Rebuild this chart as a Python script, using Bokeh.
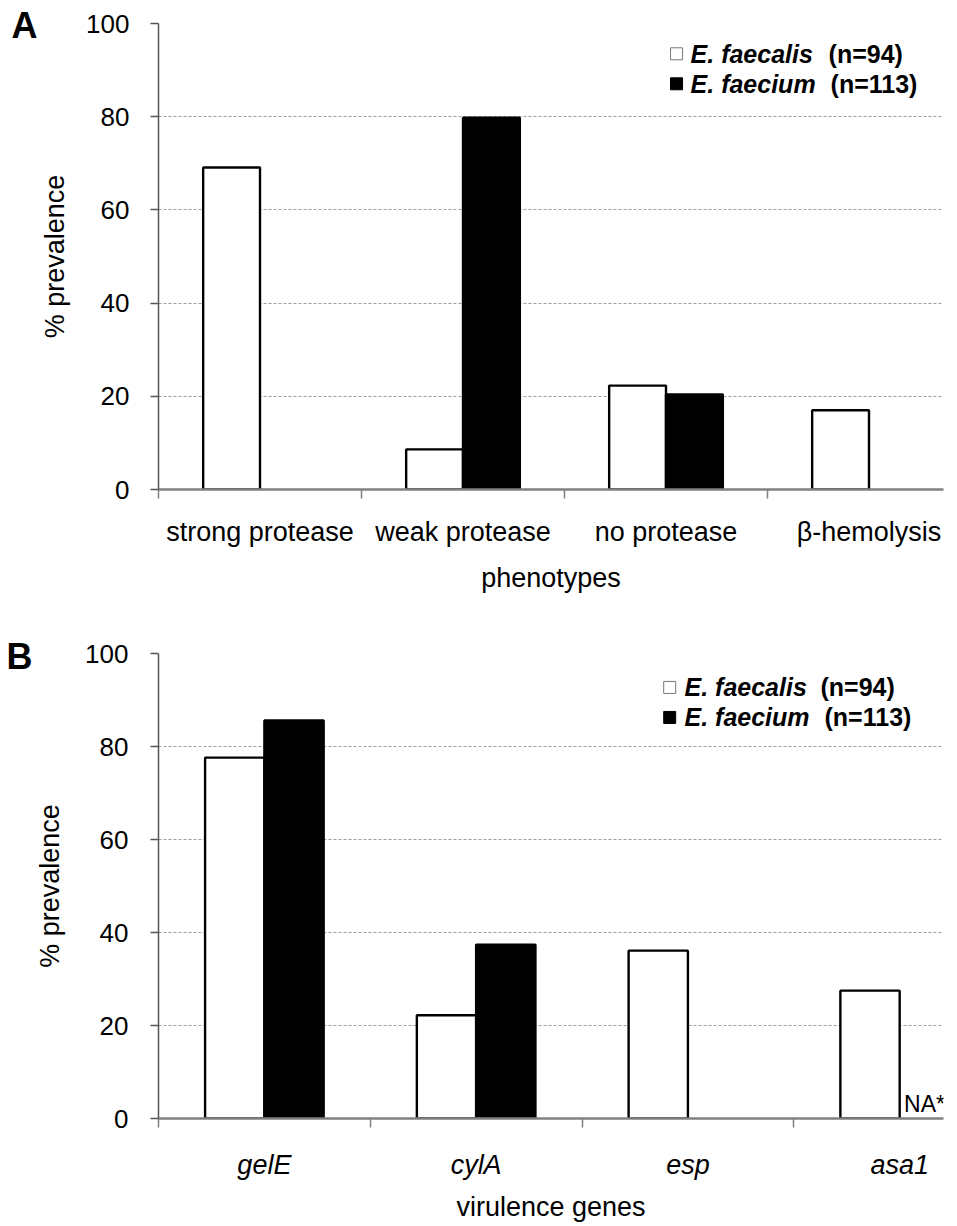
import numpy as np
from bokeh.plotting import figure
from bokeh.models import Range1d, FixedTicker, Label, LinearAxis
from bokeh.layouts import column
from bokeh.embed import file_html
from bokeh.resources import INLINE

# ---------------- data ----------------
phenotypes = ["strong protease", "weak protease", "no protease", "β-hemolysis"]
pheno_faecalis = [69.1, 8.6, 22.3, 17.0]
pheno_faecium = [0.0, 79.8, 20.4, 0.0]

genes = ["gelE", "cylA", "esp", "asa1"]
gene_faecalis = [77.6, 22.2, 36.1, 27.5]
gene_faecium = [85.6, 37.4, 0.0, float("nan")]  # asa1: NA*

species = ["E. faecalis", "E. faecium"]
sample_sizes = ["(n=94)", "(n=113)"]
y_ticks = [0, 20, 40, 60, 80, 100]
na_text = "NA*"
panel_letters = ["A", "B"]

FONT = "Liberation Sans"


def panel(cats, vals_a, vals_b, xlabel, letter, letter_y, fig_h, b_top, b_left,
          b_bottom, b_right, x_end, italic, xlab_standoff, xaxlab_standoff,
          ylab_standoff, ytick_standoff, leg_sq, leg_txt, leg_dy, n_offsets, na=None):
    p = figure(width=957, height=fig_h, output_backend="svg",
               toolbar_location=None,
               x_range=Range1d(0, x_end), y_range=Range1d(0, 100),
               min_border_top=b_top, min_border_left=b_left,
               min_border_bottom=b_bottom, min_border_right=b_right)
    p.outline_line_color = None
    p.background_fill_color = "white"

    n = len(cats)
    centers = np.arange(n) + 0.5
    w = 0.28
    xa = centers - w / 2
    xb = centers + w / 2
    va = np.array(vals_a, dtype=float)
    vb = np.array(vals_b, dtype=float)
    ma = va > 0
    mb = np.nan_to_num(vb) > 0
    p.vbar(x=xa[ma], top=va[ma], width=w, bottom=0, fill_color="white",
           line_color="black", line_width=2.4)
    p.vbar(x=xb[mb], top=vb[mb], width=w, bottom=0, fill_color="black",
           line_color="black", line_width=2.4)

    # grid
    p.xgrid.visible = False
    p.ygrid.ticker = FixedTicker(ticks=y_ticks[1:])
    p.ygrid.grid_line_color = "#a0a0a0"
    p.ygrid.grid_line_dash = "3 2"
    p.ygrid.grid_line_width = 1.2

    # y axis
    ya = p.yaxis[0]
    ya.ticker = FixedTicker(ticks=y_ticks)
    ya.axis_label = "% prevalence"
    ya.axis_label_text_font = FONT
    ya.axis_label_text_font_size = "27px"
    ya.axis_label_text_font_style = "normal"
    ya.axis_label_text_color = "black"
    ya.axis_label_standoff = ylab_standoff
    ya.major_label_text_font = FONT
    ya.major_label_text_font_size = "26px"
    ya.major_label_text_color = "black"
    ya.major_label_standoff = ytick_standoff
    ya.axis_line_color = "#555555"
    ya.axis_line_width = 1.5
    ya.major_tick_line_color = "#555555"
    ya.major_tick_line_width = 1.5
    ya.major_tick_out = 8
    ya.major_tick_in = 0
    ya.minor_tick_line_color = None

    # panel letter: an outer left axis carrying a single label
    la = LinearAxis(ticker=FixedTicker(ticks=[letter_y]),
                    major_label_overrides={letter_y: letter},
                    axis_line_color=None, major_tick_line_color=None,
                    minor_tick_line_color=None, major_tick_out=0, major_tick_in=0,
                    major_label_standoff=0,
                    major_label_text_font=FONT, major_label_text_font_size="36px",
                    major_label_text_font_style="bold", major_label_text_color="black")
    p.add_layout(la, "left")

    # x axis
    xa_ = p.xaxis[0]
    xa_.ticker = FixedTicker(ticks=list(centers), minor_ticks=list(range(n)))
    xa_.major_label_overrides = {float(c): lab for c, lab in zip(centers, cats)}
    xa_.major_tick_line_color = None
    xa_.minor_tick_line_color = "#808080"
    xa_.minor_tick_line_width = 1.5
    xa_.minor_tick_out = 9
    xa_.minor_tick_in = 0
    xa_.axis_line_color = "#808080"
    xa_.axis_line_width = 2.5
    xa_.major_label_text_font = FONT
    xa_.major_label_text_font_size = "27px"
    xa_.major_label_text_color = "black"
    xa_.major_label_text_font_style = "italic" if italic else "normal"
    xa_.major_label_standoff = xlab_standoff
    xa_.axis_label = xlabel
    xa_.axis_label_text_font = FONT
    xa_.axis_label_text_font_size = "27px"
    xa_.axis_label_text_font_style = "normal"
    xa_.axis_label_text_color = "black"
    xa_.axis_label_standoff = xaxlab_standoff

    # legend (custom, mixed styles)
    for i in range(2):
        yy = leg_sq[1] - i * leg_dy
        p.scatter(x=[leg_sq[0]], y=[yy], marker="square", size=12,
                  fill_color="white" if i == 0 else "black",
                  line_color="#777777" if i == 0 else "black", line_width=1)
        p.add_layout(Label(x=leg_txt, y=yy, text=species[i], text_font=FONT,
                           text_font_size="25px", text_font_style="bold italic",
                           text_baseline="middle", text_color="black"))
        p.add_layout(Label(x=leg_txt, y=yy, x_offset=n_offsets[i], text=sample_sizes[i],
                           text_font=FONT, text_font_size="25px", text_font_style="bold",
                           text_baseline="middle", text_color="black"))

    if na is not None:
        p.add_layout(Label(x=na, y=0, y_offset=2, text=na_text, text_font=FONT,
                           text_font_size="23px", text_baseline="bottom",
                           text_align="left", text_color="black"))
    return p


hA, hB = 600, 626

pA = panel(phenotypes, pheno_faecalis, pheno_faecium, "phenotypes",
           panel_letters[0], 99.6,
           fig_h=hA, b_top=23, b_left=158, b_bottom=111, b_right=14,
           x_end=3.867, italic=False, xlab_standoff=18,
           xaxlab_standoff=13, ylab_standoff=13, ytick_standoff=21,
           leg_sq=(2.552, 93.5), leg_txt=2.621, leg_dy=6.44, n_offsets=(138, 140))

pB = panel(genes, gene_faecalis, gene_faecium, "virulence genes",
           panel_letters[1], 99.3,
           fig_h=hB, b_top=53, b_left=153, b_bottom=108, b_right=7,
           x_end=3.707, italic=True, xlab_standoff=22,
           xaxlab_standoff=9, ylab_standoff=17, ytick_standoff=22,
           leg_sq=(2.414, 92.7), leg_txt=2.484, leg_dy=6.45, n_offsets=(136, 140),
           na=3.521)

layout = column(pA, pB, spacing=0)
open("out.html", "w").write(file_html(layout, INLINE))
